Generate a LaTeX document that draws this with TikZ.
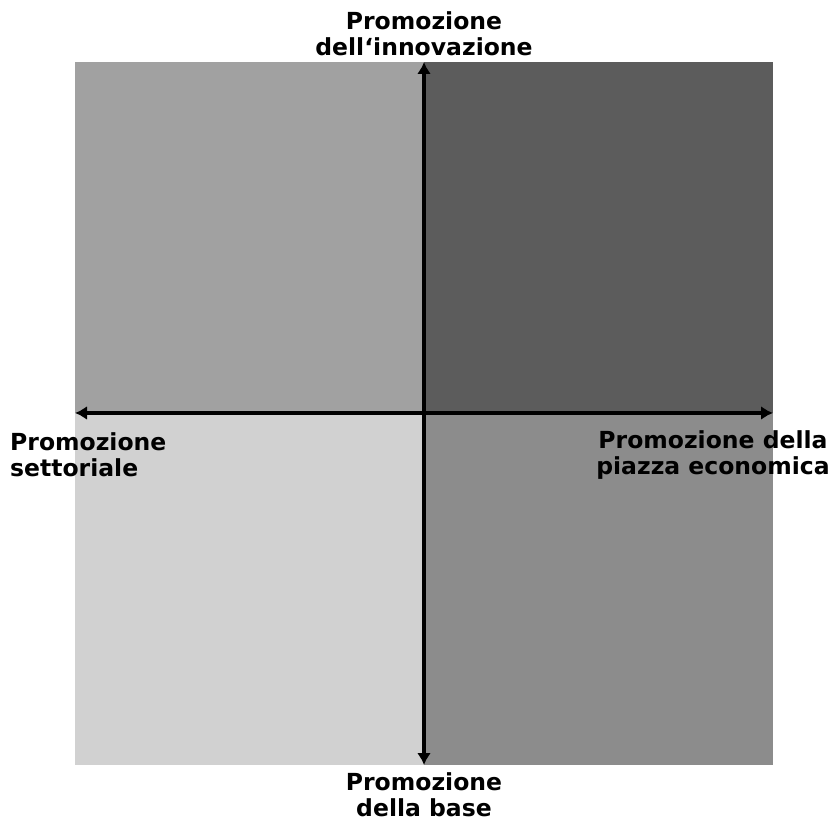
\documentclass[tikz,border=0pt]{standalone}
\usepackage{fontspec}
\setmainfont{DejaVu Sans}
\usetikzlibrary{arrows.meta}
\definecolor{quadNW}{gray}{0.63}
\definecolor{quadNE}{gray}{0.36}
\definecolor{quadSW}{gray}{0.82}
\definecolor{quadSE}{gray}{0.55}
\begin{document}
\begin{tikzpicture}
  [
    x=1pt, y=1pt,
    axis/.style={
       line width=4.5pt,
       {Latex[length=12pt,width=14pt]}-{Latex[length=12pt,width=14pt]}
    },
    lbl/.style={
       font=\bfseries\fontsize{23.5}{26}\selectfont,
       align=center,
       inner sep=0pt
    }
  ]
  \useasboundingbox (0,0) rectangle (833,823);

  % quadrants
  \fill [quadNW] ( 75,410) rectangle (424,761);
  \fill [quadNE] (424,410) rectangle (773,761);
  \fill [quadSW] ( 75, 58) rectangle (424,410);
  \fill [quadSE] (424, 58) rectangle (773,410);

  \coordinate (west)  at ( 75,410);
  \coordinate (east)  at (773,410);
  \coordinate (north) at (424,761);
  \coordinate (south) at (424, 58);

  \draw [axis] (west)  -- (east);
  \draw [axis] (south) -- (north);

  \node (lblNorth) at (424,789) [lbl] {Promozione\\dell\symbol{96}innovazione};
  \node (lblSouth) at (424, 28) [lbl] {Promozione\\della base};
  \node (lblWest)  at ( 10,368) [lbl, anchor=west, align=left] {Promozione\\settoriale};
  \node (lblEast)  at (713,368) [lbl] {Promozione della\\piazza economica};
\end{tikzpicture}
\end{document}
